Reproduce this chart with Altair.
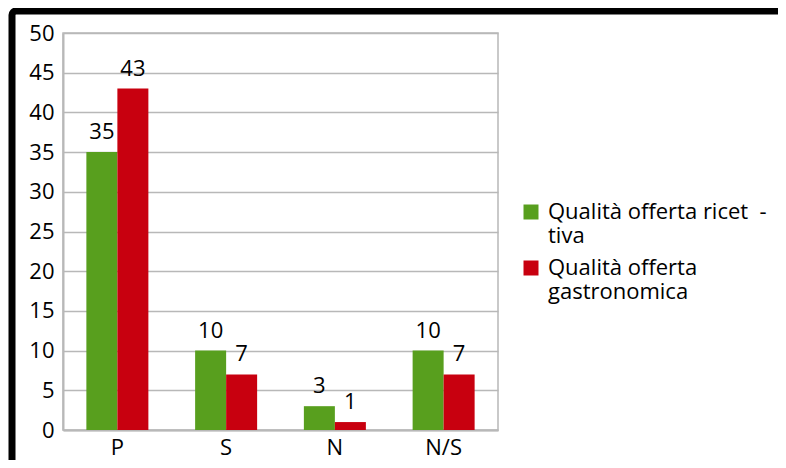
import altair as alt
import pandas as pd

categories = ["P", "S", "N", "N/S"]
series_names = ["Qualità offerta ricet\u00a0\u00a0-|tiva", "Qualità offerta|gastronomica"]
ricettiva = [35, 10, 3, 10]
gastronomica = [43, 7, 1, 7]
y_ticks = [0, 5, 10, 15, 20, 25, 30, 35, 40, 45, 50]
colors = ["#589F1E", "#C8000F"]

rows = []
for c, a, b in zip(categories, ricettiva, gastronomica):
    rows.append({"cat": c, "serie": series_names[0], "val": a})
    rows.append({"cat": c, "serie": series_names[1], "val": b})
df = pd.DataFrame(rows)

FONT = "Open Sans"
FS = 22

x = alt.X("cat:N", sort=categories, title=None,
          scale=alt.Scale(paddingInner=0, paddingOuter=0),
          axis=alt.Axis(labelAngle=0, ticks=False, domainColor="#B8B8B8", domainWidth=2,
                        labelFont=FONT, labelFontSize=FS, labelColor="#000000", labelPadding=7,
                        grid=False))
xo = alt.XOffset("serie:N", sort=series_names,
                 scale=alt.Scale(paddingInner=0, paddingOuter=0.754))
y = alt.Y("val:Q", title=None,
          scale=alt.Scale(domain=[0, 50], nice=False),
          axis=alt.Axis(values=y_ticks, tickCount=11, ticks=False, domainColor="#B8B8B8",
                        domainWidth=2, gridColor="#B8B8B8", gridWidth=1.5, labelFont=FONT,
                        labelFontSize=FS, labelColor="#000000", labelPadding=9,
                        labelOverlap=False, labelFlush=False))
color = alt.Color("serie:N", sort=series_names,
                  scale=alt.Scale(domain=series_names, range=colors),
                  legend=alt.Legend(title=None, orient="none", legendX=457, legendY=168,
                                    symbolType="square", symbolSize=225, symbolStrokeWidth=0,
                                    labelFont=FONT, labelFontSize=FS, labelColor="#000000",
                                    labelLimit=400, labelOffset=6, rowPadding=10,
                                    labelExpr="split(datum.label, '|')"))

bars = alt.Chart(df).mark_bar().encode(x=x, xOffset=xo, y=y, color=color)
labels = alt.Chart(df).mark_text(font=FONT, fontSize=FS, baseline="alphabetic", dy=-13,
                                 color="#000000").encode(
    x=x, xOffset=xo, y=y, text="val:Q")

frame = alt.Chart(pd.DataFrame({"a": [0]})).mark_rect(
    fill="transparent", stroke="#000000", strokeWidth=7, cornerRadius=4).encode(
    x=alt.value(-51), y=alt.value(-22), x2=alt.value(800), y2=alt.value(600))

chart = alt.layer(bars, labels, frame).properties(
    width=435, height=397,
    autosize=alt.AutoSizeParams(type="none"),
    padding={"left": 55, "top": 25, "right": 280, "bottom": 30},
    background="#FFFFFF",
).configure_view(stroke="#B8B8B8", strokeWidth=1.5)

chart.save("out.html", embed_options={"renderer": "svg", "actions": False})
